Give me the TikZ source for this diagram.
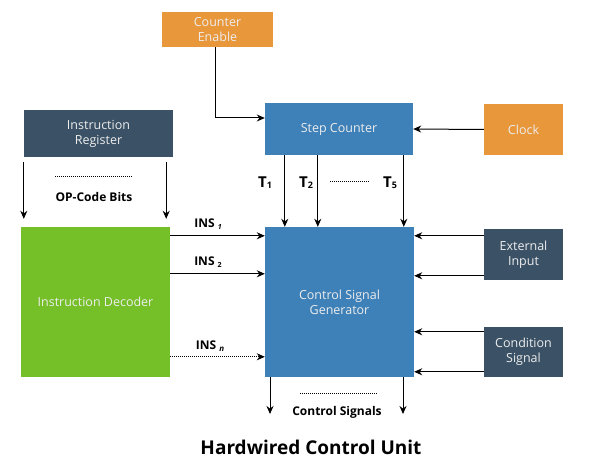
\documentclass[tikz,border=0pt]{standalone}
\usepackage{fontspec}
\setmainfont{Open Sans}
\usetikzlibrary{arrows.meta}
\definecolor{orng}{HTML}{E9973B}
\definecolor{blu}{HTML}{3E80B8}
\definecolor{slate}{HTML}{3B5266}
\definecolor{grn}{HTML}{75BF29}
\tikzset{
  box/.style={rectangle, inner sep=0pt, align=center, text=white!93!black, font=\fontsize{12.5}{15}\selectfont},
  arr/.style={-{Stealth[length=8pt,width=7pt]}, line width=1pt, black},
  lbl/.style={font=\bfseries\fontsize{12}{14}\selectfont, inner sep=0pt},
  tl/.style={font=\bfseries\fontsize{15}{16}\selectfont, inner sep=0pt},
  sep/.style={densely dotted, line width=1pt}
}
\begin{document}
\begin{tikzpicture}[x=1pt,y=-1pt]
\useasboundingbox (0,0) rectangle (600,465);
\node[box, fill=orng, minimum width=111pt, minimum height=35pt] (ce) at (217.5,29.5) {Counter\\Enable};
\node[box, fill=blu, minimum width=148pt, minimum height=52pt] (sc) at (339,129) {Step Counter};
\node[box, fill=orng, minimum width=79pt, minimum height=51pt] (clk) at (523.5,129.5) {Clock};
\node[box, fill=slate, minimum width=149pt, minimum height=47pt] (ir) at (98.5,133.5) {Instruction\\Register};
\node[box, fill=grn, minimum width=149pt, minimum height=150pt] (id) at (95.5,302) {Instruction Decoder};
\node[box, fill=blu, minimum width=149pt, minimum height=150pt] (csg) at (339.5,302) {Control Signal\\Generator};
\node[box, fill=slate, minimum width=79pt, minimum height=51pt] (ei) at (523.5,254.5) {External\\Input};
\node[box, fill=slate, minimum width=79pt, minimum height=50pt] (cnd) at (523.5,352) {Condition\\Signal};

% counter enable -> step counter
\draw[arr] ([xshift=-2.5pt]ce.south) |- ([yshift=11pt]sc.west);
% clock -> step counter
\draw[arr] (clk.west) -- (sc.east);
% instruction register -> decoder
\draw[arr, shorten <=5pt, shorten >=8pt] ([xshift=0pt]ir.south west) -- ([xshift=3pt]id.north west);
\draw[arr, shorten <=5pt, shorten >=8pt] ([xshift=-7pt]ir.south east) -- ([xshift=-4pt]id.north east);
\draw[sep] (55,177) -- (133,177);
\node[lbl] (op) at (94,197) {OP-Code Bits};
% T lines
\draw[arr] ([xshift=20pt]sc.south west) -- ([xshift=20pt]csg.north west);
\draw[arr] ([xshift=53pt]sc.south west) -- ([xshift=53pt]csg.north west);
\draw[arr] ([xshift=139pt]sc.south west) -- ([xshift=139pt]csg.north west);
\node[tl] (t1) at (265,183) {T\raisebox{-1pt}{\fontsize{9}{9}\selectfont 1}};
\node[tl] (t2) at (306,183) {T\raisebox{-1pt}{\fontsize{9}{9}\selectfont 2}};
\draw[sep] (330,182) -- (370,182);
\node[tl] (t5) at (390,183) {T\raisebox{-1pt}{\fontsize{9}{9}\selectfont 5}};
% INS lines
\draw[arr] ([yshift=-9pt]id.north east) -- ([yshift=-9pt]csg.north west);
\draw[arr] ([yshift=-47pt]id.north east) -- ([yshift=-47pt]csg.north west);
\draw[arr, densely dotted] ([yshift=-130pt]id.north east) -- ([yshift=-130pt]csg.north west);
\node[lbl] (ins1) at (208,224) {INS \raisebox{-1.5pt}{\fontsize{7}{7}\selectfont\itshape 1}};
\node[lbl] (ins2) at (208,262) {INS \raisebox{-1.5pt}{\fontsize{7}{7}\selectfont 2}};
\node[lbl] (insn) at (210,346) {INS \raisebox{-1.5pt}{\fontsize{8}{8}\selectfont\itshape n}};
% external input / condition
\coordinate (e1) at ([yshift=-7pt]ei.north west);
\coordinate (e2) at ([yshift=-47pt]ei.north west);
\coordinate (c1) at ([yshift=-5pt]cnd.north west);
\coordinate (c2) at ([yshift=-45pt]cnd.north west);
\draw[arr] (e1) -- (e1 -| csg.east);
\draw[arr] (e2) -- (e2 -| csg.east);
\draw[arr] (c1) -- (c1 -| csg.east);
\draw[arr] (c2) -- (c2 -| csg.east);
% control signals
\coordinate (o1) at (270,414);
\coordinate (o2) at (403,414);
\draw[arr] (csg.south -| o1) -- (o1);
\draw[arr] (csg.south -| o2) -- (o2);
\draw[sep] (300,393) -- (377,393);
\node[lbl] (cs) at (337,412) {Control Signals};
\node[font=\bfseries\fontsize{19}{22}\selectfont, inner sep=0pt] (title) at (311,447) {Hardwired Control Unit};
\end{tikzpicture}
\end{document}
